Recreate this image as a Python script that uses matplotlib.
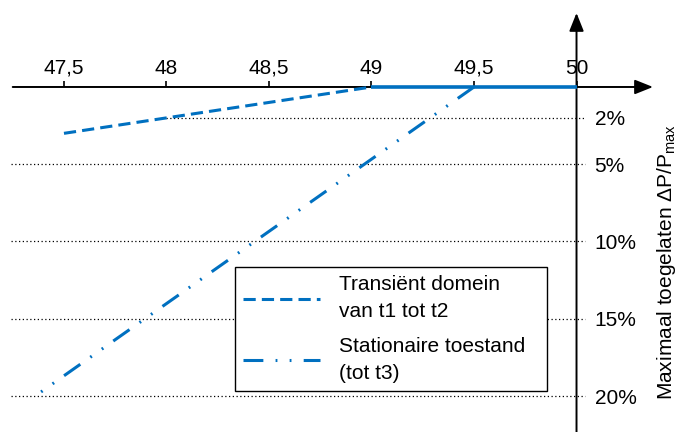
import matplotlib
matplotlib.use("Agg")
import matplotlib.pyplot as plt

plt.rcParams["font.family"] = ["Liberation Sans", "DejaVu Sans"]
plt.rcParams["mathtext.fontset"] = "custom"
plt.rcParams["mathtext.rm"] = "Liberation Sans"

# frequency (Hz) and allowed power drop (%)
transient_f = [47.5, 49.0]
transient_dp = [3.0, 0.0]
flat_f = [49.0, 50.0]
flat_dp = [0.0, 0.0]
stationary_f = [49.5, 47.36]
stationary_dp = [0.0, 20.0]

x_ticks = [47.5, 48.0, 48.5, 49.0, 49.5, 50.0]
x_labels = ["47,5", "48", "48,5", "49", "49,5", "50"]
y_ticks = [2, 5, 10, 15, 20]
y_labels = ["2%", "5%", "10%", "15%", "20%"]
grid_start = [48.0, 47.24, 47.24, 47.24, 47.24]

labels = ["Transiënt domein\nvan t1 tot t2", "Stationaire toestand\n(tot t3)"]
blue = "#0070C0"

fig = plt.figure(figsize=(6.78, 4.32), dpi=100)
ax = fig.add_axes([0, 0, 1, 1])
ax.set_xlim(47.188, 50.495)
ax.set_ylim(22.33, -5.63)

# dotted guide lines
ax.hlines(y_ticks, grid_start, 50.04, colors="black", linestyles=(0, (1, 2)), lw=0.9, zorder=1)

l1, = ax.plot(transient_f, transient_dp, color=blue, lw=2.2, ls=(0, (4, 2)), zorder=3)
ax.plot(flat_f, flat_dp, color=blue, lw=2.6, solid_capstyle="butt", zorder=4)
l2, = ax.plot(stationary_f, stationary_dp, color=blue, lw=2.2,
              ls=(0, (6.5, 4, 0.6, 4, 0.6, 4)), dash_capstyle="butt", zorder=3)

# axes drawn as arrows
arrow = dict(arrowstyle="-|>,head_length=0.55,head_width=0.22", color="black", lw=1.4,
             mutation_scale=20, shrinkA=0, shrinkB=0)
ax.annotate("", xy=(50.373, 0), xytext=(47.25, 0), arrowprops=arrow, zorder=2)
ax.annotate("", xy=(50.0, -4.79), xytext=(50.0, 22.4), arrowprops=arrow, zorder=2)

for s in ax.spines.values():
    s.set_visible(False)
ax.spines["top"].set_position(("data", 0))
ax.spines["right"].set_position(("data", 50))

ax.xaxis.set_ticks_position("top")
ax.set_xticks(x_ticks)
ax.set_xticklabels(x_labels)
ax.tick_params(axis="x", direction="out", length=4.5, width=1.2, pad=2, labelsize=15)

ax.yaxis.set_ticks_position("right")
ax.set_yticks(y_ticks)
ax.set_yticklabels(y_labels)
ax.tick_params(axis="y", length=0, pad=13, labelsize=15)

fig.text(666 / 678, 1 - 262 / 432, r"Maximaal toegelaten ΔP/P$_{\mathregular{max}}$",
         rotation=90, ha="center", va="center", fontsize=15)

leg_h = 0.01
leg = ax.legend([l1, l2], labels, loc="upper left",
                bbox_to_anchor=(235 / 678, 1 - 267 / 432 - leg_h, (547 - 235) / 678, leg_h),
                bbox_transform=fig.transFigure, mode="expand", fontsize=15,
                frameon=True, fancybox=False,
                handlelength=3.7, handletextpad=0.9, labelspacing=0.75, borderpad=0.4,
                borderaxespad=0)
for t in leg.get_texts():
    t.set_linespacing(1.54)
leg.get_frame().set_edgecolor("black")
leg.get_frame().set_linewidth(1.0)
leg.get_frame().set_alpha(1)
leg.set_zorder(5)

plt.savefig("out.png", dpi=100)
